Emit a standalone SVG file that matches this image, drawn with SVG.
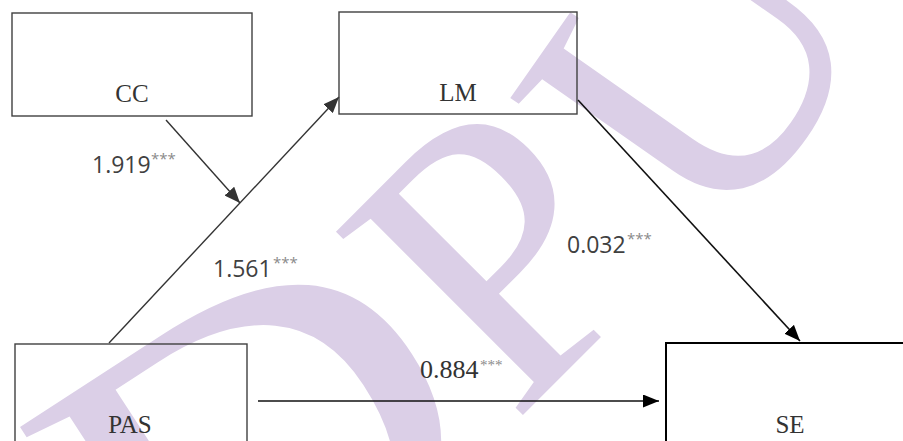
<svg xmlns="http://www.w3.org/2000/svg" width="903" height="441" viewBox="0 0 903 441">
<style>
.box{fill:none;stroke:#404040;stroke-width:1.4}
.lbl{font-family:"Liberation Serif","Times New Roman",serif;font-size:25px;fill:#333;text-anchor:middle}
.num{font-family:"Open Sans","Liberation Sans",sans-serif;font-size:23px;fill:#404040}
.star{font-family:"Open Sans","Liberation Sans",sans-serif;font-size:15px;fill:#8a8a8a}
.snum{font-family:"Liberation Serif","Times New Roman",serif;font-size:26px;fill:#333}
.sstar{font-family:"Liberation Serif","Times New Roman",serif;font-size:15px;fill:#8a8a8a}
.wm{font-family:"Liberation Serif","Times New Roman",serif;font-size:400px;fill:#dbcfe7}
.edge{fill:none;stroke:#333;stroke-width:1.4}
.edgeb{fill:none;stroke:#111;stroke-width:1.6}
</style>
<defs>
<marker id="ah" markerUnits="userSpaceOnUse" markerWidth="16" markerHeight="13" refX="16" refY="6.5" orient="auto"><path d="M0,0 L16,6.5 L0,13 z" fill="#333"/></marker>
<marker id="ahb" markerUnits="userSpaceOnUse" markerWidth="16" markerHeight="13" refX="16" refY="6.5" orient="auto"><path d="M0,0 L16,6.5 L0,13 z" fill="#000"/></marker>
</defs>
<rect width="903" height="441" fill="#fff"/>
<g id="watermark">
<text class="wm" style="font-size:470px" transform="translate(174,694) rotate(-33) scale(1.2,1)">D</text>
<text class="wm" transform="translate(513,425) rotate(-45)">P</text>
<text class="wm" transform="translate(720,255) rotate(-55)">U</text>
</g>
<g id="connectors">
<line class="edge" x1="109" y1="343" x2="339" y2="97" marker-end="url(#ah)"/>
<line class="edge" x1="166" y1="120" x2="240" y2="203" marker-end="url(#ah)"/>
<line class="edgeb" x1="578" y1="100" x2="800" y2="341" marker-end="url(#ahb)"/>
<line class="edgeb" x1="258" y1="401" x2="659" y2="401" marker-end="url(#ahb)"/>
</g>
<g id="node-CC">
<rect class="box" x="12" y="13" width="240" height="103"/>
<text class="lbl" x="132" y="102">CC</text>
</g>
<g id="node-LM">
<rect class="box" x="339" y="12" width="238" height="102"/>
<text class="lbl" x="458" y="101">LM</text>
</g>
<g id="node-PAS">
<rect class="box" x="15" y="344" width="232" height="110"/>
<text class="lbl" x="130" y="433">PAS</text>
</g>
<g id="node-SE">
<rect class="box" x="666" y="343" width="250" height="110" style="stroke:#000;stroke-width:2"/>
<text class="lbl" x="790" y="433">SE</text>
</g>
<g id="labels">
<text class="num" x="92" y="173">1.919</text><text class="star" x="151" y="164">***</text>
<text class="num" x="213" y="277">1.561</text><text class="star" x="273" y="268">***</text>
<text class="num" x="567" y="253">0.032</text><text class="star" x="627" y="244">***</text>
<text class="snum" x="420" y="378">0.884</text><text class="sstar" x="480" y="370">***</text>
</g>
</svg>
